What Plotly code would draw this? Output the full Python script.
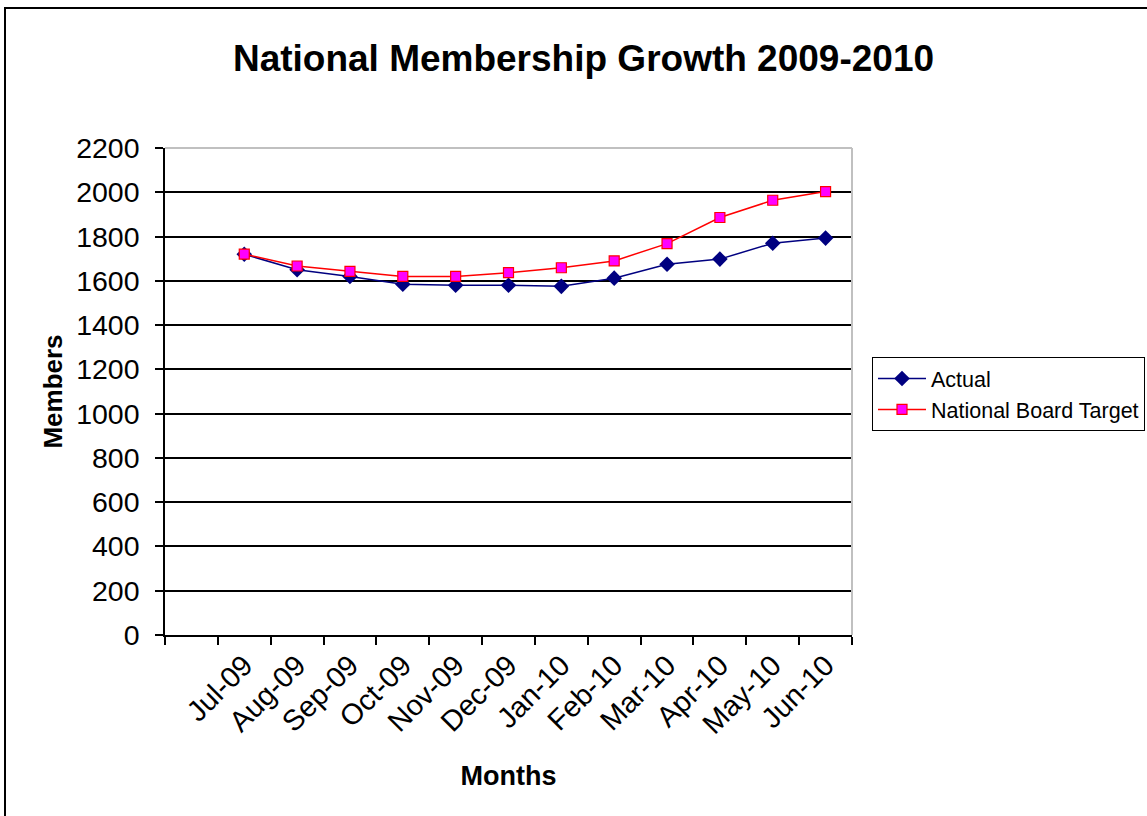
import plotly.graph_objects as go

months = ["Jul-09", "Aug-09", "Sep-09", "Oct-09", "Nov-09", "Dec-09",
          "Jan-10", "Feb-10", "Mar-10", "Apr-10", "May-10", "Jun-10"]
actual = [1720, 1650, 1620, 1585, 1580, 1580, 1575, 1612, 1675, 1698, 1770, 1793]
target = [1721, 1667, 1643, 1620, 1620, 1637, 1659, 1690, 1768, 1886, 1964, 2003]
y_ticks = list(range(0, 2201, 200))

W, H = 1147, 816
L, R, T, B = 165, 852, 148, 635  # plot area in pixels

idx = list(range(len(months)))
bounds = [i - 0.5 for i in range(-1, len(months) + 1)]

FONT = "Arial, Liberation Sans, sans-serif"

fig = go.Figure()
fig.add_trace(go.Scatter(
    x=idx, y=actual, name="Actual", mode="lines+markers",
    line=dict(color="#000080", width=1.5),
    marker=dict(symbol="diamond", size=12, color="#000080"),
))
fig.add_trace(go.Scatter(
    x=idx, y=target, name="National Board Target", mode="lines+markers",
    line=dict(color="#FF0000", width=1.5),
    marker=dict(symbol="square", size=10, color="#FF00FF",
                line=dict(color="#FF0000", width=1.2)),
))

def px_x(p):
    return (p - L) / (R - L)

def px_y(p):
    return (B - p) / (B - T)

fig.update_layout(
    width=W, height=H,
    margin=dict(l=L, r=W - R, t=T, b=H - B, pad=0, autoexpand=False),
    paper_bgcolor="white", plot_bgcolor="white",
    font=dict(family=FONT, color="black"),
    title=dict(text="<b>National Membership Growth 2009-2010</b>",
               font=dict(size=37, family=FONT, color="black"),
               xref="container", yref="container",
               x=583.5 / W, y=1 - 58 / H, xanchor="center", yanchor="middle"),
    showlegend=True,
    legend=dict(x=px_x(872), y=px_y(357), xanchor="left", yanchor="top",
                bordercolor="black", borderwidth=1, bgcolor="white",
                font=dict(size=21.5, family=FONT, color="black"),
                itemwidth=48, tracegroupgap=0),
    xaxis=dict(
        range=[-1.5, len(months) - 0.5],
        tickmode="array", tickvals=idx, ticktext=months,
        ticks="", tickangle=-45,
        tickfont=dict(size=29, family=FONT, color="black"),
        showline=True, linecolor="black", linewidth=1.5,
        showgrid=False, zeroline=False, automargin=False,
        minor=dict(tickmode="array", tickvals=bounds, ticks="outside",
                   ticklen=8, tickwidth=1.5, tickcolor="black", showgrid=False),
        title=dict(text="<b>Months</b>", font=dict(size=27, family=FONT, color="black"),
                   standoff=27),
        fixedrange=True,
    ),
    yaxis=dict(
        range=[0, 2200],
        tickmode="array", tickvals=y_ticks,
        ticks="outside", ticklen=8, tickwidth=1.5, tickcolor="black",
        tickfont=dict(size=28.5, family=FONT, color="black"),
        ticklabelstandoff=10,
        showline=True, linecolor="black", linewidth=1.5,
        showgrid=True, gridcolor="black", gridwidth=1.5,
        zeroline=False, automargin=False,
        title=dict(text="<b>Members</b>", font=dict(size=26, family=FONT, color="black"),
                   standoff=6),
        fixedrange=True,
    ),
    shapes=[
        # plot area border (top and right, grey)
        dict(type="line", xref="paper", yref="paper", x0=0, x1=1, y0=1, y1=1,
             line=dict(color="#c0c0c0", width=2), layer="above"),
        dict(type="line", xref="paper", yref="paper", x0=1, x1=1, y0=0, y1=1,
             line=dict(color="#c0c0c0", width=2), layer="above"),
        # chart area border
        dict(type="rect", xref="paper", yref="paper",
             x0=px_x(5), x1=px_x(W + 20), y0=px_y(H + 20), y1=px_y(8),
             line=dict(color="black", width=2), fillcolor="rgba(0,0,0,0)",
             layer="below"),
    ],
)

fig.write_html("out.html")
